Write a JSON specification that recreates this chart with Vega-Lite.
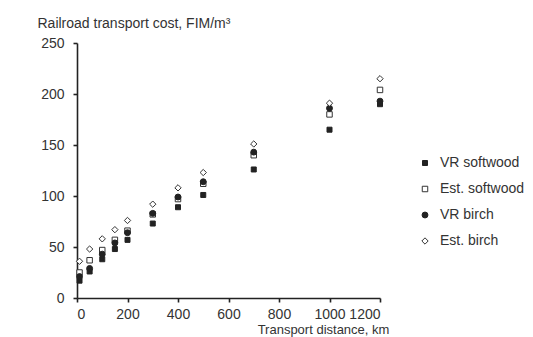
{
  "$schema": "https://vega.github.io/schema/vega-lite/v6.json",
  "autosize": "none",
  "width": 303,
  "height": 255,
  "padding": {"left": 77, "top": 43, "right": 153, "bottom": 39},
  "background": "white",
  "config": {
    "view": {"stroke": null},
    "font": "Liberation Sans",
    "axis": {"grid": false, "domainColor": "#222", "domainWidth": 1.6, "tickColor": "#222", "tickWidth": 1.6, "tickSize": 4, "labelColor": "#333", "labelFontSize": 14, "titleColor": "#333", "titleFontSize": 14, "titleFontWeight": "normal", "labelOverlap": false},
    "legend": {"title": null, "orient": "none", "legendX": 341, "legendY": 113, "labelFontSize": 14, "labelColor": "#333", "labelOffset": 8, "rowPadding": 12, "symbolStrokeWidth": 1}
  },
  "data": {
    "values": [
      {"series": "VR softwood", "distance": 10, "cost": 17},
      {"series": "VR softwood", "distance": 50, "cost": 26},
      {"series": "VR softwood", "distance": 100, "cost": 38},
      {"series": "VR softwood", "distance": 150, "cost": 48},
      {"series": "VR softwood", "distance": 200, "cost": 57},
      {"series": "VR softwood", "distance": 300, "cost": 73},
      {"series": "VR softwood", "distance": 400, "cost": 89},
      {"series": "VR softwood", "distance": 500, "cost": 101},
      {"series": "VR softwood", "distance": 700, "cost": 126},
      {"series": "VR softwood", "distance": 1000, "cost": 165},
      {"series": "VR softwood", "distance": 1200, "cost": 190},
      {"series": "Est. softwood", "distance": 10, "cost": 25},
      {"series": "Est. softwood", "distance": 50, "cost": 37},
      {"series": "Est. softwood", "distance": 100, "cost": 47},
      {"series": "Est. softwood", "distance": 150, "cost": 57},
      {"series": "Est. softwood", "distance": 200, "cost": 66},
      {"series": "Est. softwood", "distance": 300, "cost": 82},
      {"series": "Est. softwood", "distance": 400, "cost": 97},
      {"series": "Est. softwood", "distance": 500, "cost": 112},
      {"series": "Est. softwood", "distance": 700, "cost": 140},
      {"series": "Est. softwood", "distance": 1000, "cost": 180},
      {"series": "Est. softwood", "distance": 1200, "cost": 204},
      {"series": "VR birch", "distance": 10, "cost": 21},
      {"series": "VR birch", "distance": 50, "cost": 29},
      {"series": "VR birch", "distance": 100, "cost": 43},
      {"series": "VR birch", "distance": 150, "cost": 54},
      {"series": "VR birch", "distance": 200, "cost": 64},
      {"series": "VR birch", "distance": 300, "cost": 83},
      {"series": "VR birch", "distance": 400, "cost": 99},
      {"series": "VR birch", "distance": 500, "cost": 114},
      {"series": "VR birch", "distance": 700, "cost": 143},
      {"series": "VR birch", "distance": 1000, "cost": 186},
      {"series": "VR birch", "distance": 1200, "cost": 193},
      {"series": "Est. birch", "distance": 10, "cost": 36},
      {"series": "Est. birch", "distance": 50, "cost": 48},
      {"series": "Est. birch", "distance": 100, "cost": 58},
      {"series": "Est. birch", "distance": 150, "cost": 67},
      {"series": "Est. birch", "distance": 200, "cost": 76},
      {"series": "Est. birch", "distance": 300, "cost": 92},
      {"series": "Est. birch", "distance": 400, "cost": 108},
      {"series": "Est. birch", "distance": 500, "cost": 123},
      {"series": "Est. birch", "distance": 700, "cost": 151},
      {"series": "Est. birch", "distance": 1000, "cost": 191},
      {"series": "Est. birch", "distance": 1200, "cost": 215}
    ]
  },
  "mark": {"type": "point", "strokeWidth": 1, "opacity": 1},
  "encoding": {
    "x": {
      "field": "distance", "type": "quantitative",
      "scale": {"domain": [0, 1200], "nice": false, "zero": true},
      "axis": {"values": [0, 200, 400, 600, 800, 1000, 1200], "format": "d", "labelPadding": 5, "title": "Transport distance, km", "titleFontSize": 13, "titleX": 246, "titleY": 31, "titleAlign": "center", "titleBaseline": "middle"}
    },
    "y": {
      "field": "cost", "type": "quantitative",
      "scale": {"domain": [0, 250], "nice": false},
      "axis": {"values": [0, 50, 100, 150, 200, 250], "labelPadding": 9, "title": "Railroad transport cost, FIM/m³", "titleAngle": 0, "titleX": -40, "titleY": -20, "titleAlign": "left", "titleBaseline": "middle"}
    },
    "shape": {
      "field": "series", "type": "nominal",
      "scale": {"domain": ["VR softwood", "Est. softwood", "VR birch", "Est. birch"], "range": ["square", "square", "circle", "diamond"]}
    },
    "fill": {
      "field": "series", "type": "nominal",
      "scale": {"domain": ["VR softwood", "Est. softwood", "VR birch", "Est. birch"], "range": ["#222", "white", "#222", "white"]}
    },
    "stroke": {
      "field": "series", "type": "nominal",
      "scale": {"domain": ["VR softwood", "Est. softwood", "VR birch", "Est. birch"], "range": ["#222", "#333", "#222", "#333"]}
    },
    "size": {
      "field": "series", "type": "nominal",
      "scale": {"domain": ["VR softwood", "Est. softwood", "VR birch", "Est. birch"], "range": [25, 40, 5, 28]}
    }
  }
}
